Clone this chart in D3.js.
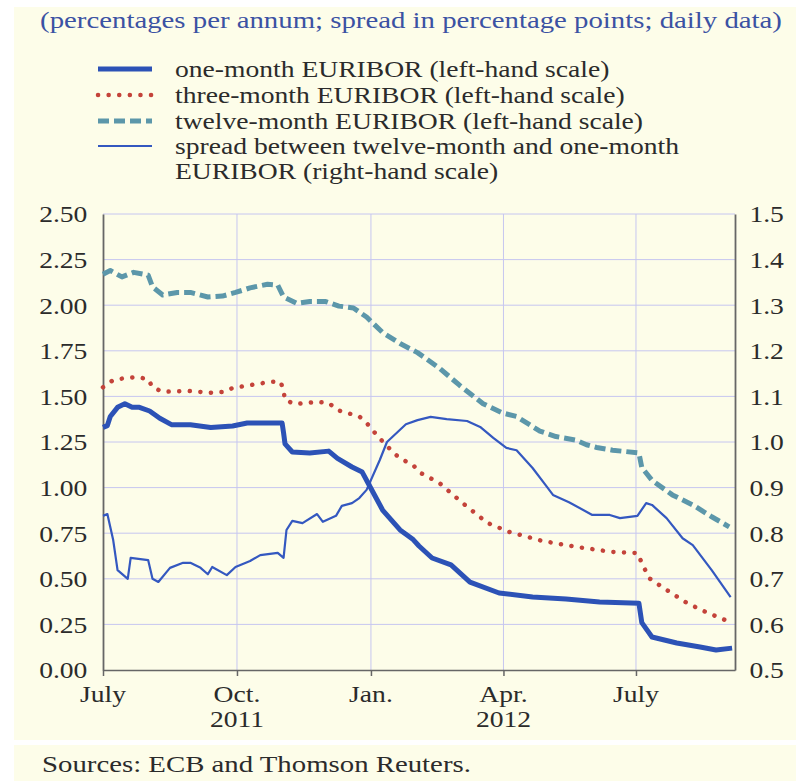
<!DOCTYPE html>
<html>
<head>
<meta charset="utf-8">
<script src="https://cdn.jsdelivr.net/npm/d3@7"></script>
<style>
  body { margin: 0; background: #ffffff; }
  svg { display: block; }
</style>
</head>
<body>
<div id="chart"></div>
<script>
// daily EURIBOR rates (left-hand scale, % p.a.)
var oneMonth = [
  ["2011-07-01", 1.33], ["2011-07-04", 1.34], ["2011-07-06", 1.39], ["2011-07-11", 1.44],
  ["2011-07-16", 1.46], ["2011-07-21", 1.44], ["2011-07-26", 1.44], ["2011-08-02", 1.42],
  ["2011-08-09", 1.38], ["2011-08-17", 1.345], ["2011-08-30", 1.345], ["2011-09-13", 1.33],
  ["2011-09-28", 1.338], ["2011-10-08", 1.354], ["2011-11-01", 1.354], ["2011-11-02", 1.30],
  ["2011-11-03", 1.24], ["2011-11-08", 1.195], ["2011-11-20", 1.19], ["2011-12-03", 1.20],
  ["2011-12-09", 1.16], ["2011-12-19", 1.113], ["2011-12-26", 1.085], ["2011-12-30", 1.025],
  ["2012-01-09", 0.877], ["2012-01-21", 0.768], ["2012-01-30", 0.715], ["2012-02-03", 0.68],
  ["2012-02-12", 0.614], ["2012-02-25", 0.576], ["2012-03-09", 0.482], ["2012-03-29", 0.422],
  ["2012-04-21", 0.40], ["2012-05-14", 0.389], ["2012-06-06", 0.373], ["2012-07-03", 0.366],
  ["2012-07-05", 0.26], ["2012-07-12", 0.181], ["2012-07-29", 0.148], ["2012-08-14", 0.126],
  ["2012-08-25", 0.11], ["2012-09-05", 0.12]
];

var threeMonth = [
  ["2011-07-01", 1.55], ["2011-07-08", 1.59], ["2011-07-16", 1.60], ["2011-07-24", 1.606],
  ["2011-08-01", 1.595], ["2011-08-04", 1.55], ["2011-08-11", 1.525], ["2011-08-28", 1.53],
  ["2011-09-13", 1.52], ["2011-09-22", 1.525], ["2011-09-28", 1.546], ["2011-10-15", 1.568],
  ["2011-10-24", 1.58], ["2011-10-31", 1.58], ["2011-11-02", 1.53], ["2011-11-03", 1.48],
  ["2011-11-10", 1.458], ["2011-11-25", 1.47], ["2011-12-03", 1.464], ["2011-12-09", 1.425],
  ["2011-12-24", 1.39], ["2011-12-29", 1.355], ["2012-01-02", 1.316], ["2012-01-07", 1.27],
  ["2012-01-16", 1.195], ["2012-01-21", 1.16], ["2012-01-30", 1.124], ["2012-02-03", 1.085],
  ["2012-02-17", 1.025], ["2012-03-04", 0.915], ["2012-03-21", 0.806], ["2012-04-05", 0.757],
  ["2012-04-28", 0.707], ["2012-05-22", 0.674], ["2012-06-15", 0.647], ["2012-07-02", 0.641],
  ["2012-07-05", 0.587], ["2012-07-10", 0.504], ["2012-07-22", 0.439], ["2012-08-05", 0.367],
  ["2012-08-18", 0.318], ["2012-09-02", 0.268]
];

var twelveMonth = [
  ["2011-07-01", 2.17], ["2011-07-06", 2.19], ["2011-07-14", 2.155], ["2011-07-22", 2.18],
  ["2011-08-01", 2.165], ["2011-08-04", 2.10], ["2011-08-11", 2.056], ["2011-08-21", 2.07],
  ["2011-08-30", 2.07], ["2011-09-11", 2.045], ["2011-09-21", 2.05], ["2011-09-30", 2.07],
  ["2011-10-10", 2.095], ["2011-10-22", 2.115], ["2011-10-29", 2.11], ["2011-11-02", 2.045],
  ["2011-11-11", 2.01], ["2011-11-20", 2.02], ["2011-12-01", 2.02], ["2011-12-10", 1.995],
  ["2011-12-20", 1.985], ["2011-12-29", 1.935], ["2012-01-09", 1.85], ["2012-01-21", 1.79],
  ["2012-02-02", 1.74], ["2012-02-17", 1.655], ["2012-03-02", 1.56], ["2012-03-18", 1.46],
  ["2012-03-31", 1.41], ["2012-04-10", 1.39], ["2012-04-26", 1.31], ["2012-05-07", 1.28],
  ["2012-05-21", 1.26], ["2012-05-28", 1.235], ["2012-06-04", 1.22], ["2012-06-15", 1.205],
  ["2012-07-03", 1.19], ["2012-07-05", 1.11], ["2012-07-12", 1.04], ["2012-07-26", 0.96],
  ["2012-08-09", 0.905], ["2012-08-22", 0.84], ["2012-09-03", 0.785]
];

// spread twelve-month minus one-month (right-hand scale, percentage points)
var spread = [
  ["2011-07-01", 0.838], ["2011-07-04", 0.842], ["2011-07-08", 0.785], ["2011-07-11", 0.719],
  ["2011-07-18", 0.70], ["2011-07-20", 0.746], ["2011-08-01", 0.741], ["2011-08-04", 0.70],
  ["2011-08-08", 0.693], ["2011-08-16", 0.724], ["2011-08-25", 0.735], ["2011-08-30", 0.735],
  ["2011-09-06", 0.724], ["2011-09-11", 0.71], ["2011-09-14", 0.726], ["2011-09-24", 0.708],
  ["2011-09-30", 0.726], ["2011-10-10", 0.739], ["2011-10-17", 0.752], ["2011-10-29", 0.757],
  ["2011-11-02", 0.746], ["2011-11-04", 0.807], ["2011-11-08", 0.827], ["2011-11-15", 0.822],
  ["2011-11-25", 0.842], ["2011-11-29", 0.825], ["2011-12-08", 0.838], ["2011-12-12", 0.86],
  ["2011-12-19", 0.866], ["2011-12-24", 0.877], ["2011-12-29", 0.895], ["2012-01-07", 0.96],
  ["2012-01-12", 1.0], ["2012-01-25", 1.039], ["2012-02-02", 1.048], ["2012-02-11", 1.055],
  ["2012-02-22", 1.05], ["2012-03-07", 1.046], ["2012-03-16", 1.033], ["2012-03-25", 1.009],
  ["2012-04-03", 0.987], ["2012-04-10", 0.982], ["2012-04-21", 0.943], ["2012-05-01", 0.901],
  ["2012-05-05", 0.884], ["2012-05-16", 0.868], ["2012-06-01", 0.84], ["2012-06-13", 0.84],
  ["2012-06-20", 0.833], ["2012-07-02", 0.838], ["2012-07-08", 0.866], ["2012-07-12", 0.862],
  ["2012-07-22", 0.833], ["2012-08-02", 0.789], ["2012-08-09", 0.774], ["2012-08-22", 0.719],
  ["2012-09-04", 0.66]
];

var leftTicks = [0, 0.25, 0.5, 0.75, 1, 1.25, 1.5, 1.75, 2, 2.25, 2.5];
var rightTicks = [0.5, 0.6, 0.7, 0.8, 0.9, 1.0, 1.1, 1.2, 1.3, 1.4, 1.5];
var monthTicks = ["2011-07-01", "2011-10-01", "2012-01-01", "2012-04-01", "2012-07-01"];
var monthLabels = ["July", "Oct.", "Jan.", "Apr.", "July"];
var yearLabels = [["2011-10-01", "2011"], ["2012-04-01", "2012"]];

var legendLabels = [
  "one-month EURIBOR (left-hand scale)",
  "three-month EURIBOR (left-hand scale)",
  "twelve-month EURIBOR (left-hand scale)",
  "spread between twelve-month and one-month",
  "EURIBOR (right-hand scale)"
];

var subtitle = "(percentages per annum; spread in percentage points; daily data)";
var source = "Sources: ECB and Thomson Reuters.";

// ------------------------------------------------------------
var width = 796, height = 781;
var plot = {left: 103, right: 735, top: 214, bottom: 670};
var serif = "'Liberation Serif', 'Times New Roman', serif";
var stretch = 1.2;   // the source picture is a little wider than tall text

var parse = d3.timeParse("%Y-%m-%d");

var svg = d3.select("#chart").append("svg")
    .attr("width", width)
    .attr("height", height);

svg.append("rect").attr("x", 14).attr("y", 7).attr("width", width - 14).attr("height", 733).attr("fill", "#fdfde9");
svg.append("rect").attr("x", 14).attr("y", 745).attr("width", width - 14).attr("height", 36).attr("fill", "#fdfde9");

function label(x, y, s, anchor, size, color) {
  return svg.append("text")
      .attr("transform", "translate(" + x + "," + y + ") scale(" + stretch + ",1)")
      .attr("text-anchor", anchor)
      .attr("font-family", serif)
      .attr("font-size", size)
      .attr("fill", color)
      .text(s);
}

label(411, 28, subtitle, "middle", 24, "#3b52a3");
label(42, 772, source, "start", 24, "#2b2b2b");

var x = d3.scaleTime()
    .domain([parse("2011-07-01"), parse("2012-09-07")])
    .range([plot.left, plot.right]);

var yL = d3.scaleLinear().domain([0, 2.5]).range([plot.bottom, plot.top]);
var yR = d3.scaleLinear().domain([0.5, 1.5]).range([plot.bottom, plot.top]);

// grid
var grid = svg.append("g").attr("stroke", "#c6c6f0").attr("stroke-width", 1);
grid.selectAll("line.h")
    .data(leftTicks.filter(function(d) { return d > 0; }))
    .enter().append("line")
    .attr("x1", plot.left).attr("x2", plot.right)
    .attr("y1", function(d) { return yL(d); })
    .attr("y2", function(d) { return yL(d); });
grid.selectAll("line.v")
    .data(monthTicks.slice(1))
    .enter().append("line")
    .attr("x1", function(d) { return x(parse(d)); })
    .attr("x2", function(d) { return x(parse(d)); })
    .attr("y1", plot.top).attr("y2", plot.bottom);

// axes
var axisColor = "#666";

var gx = svg.append("g")
    .attr("transform", "translate(0," + plot.bottom + ")")
    .call(d3.axisBottom(x)
      .tickValues(monthTicks.map(parse))
      .tickSize(6).tickSizeOuter(0).tickFormat(""));
gx.selectAll("path, line").attr("stroke", axisColor).attr("stroke-width", 1.5);

monthTicks.forEach(function(d, i) {
  label(x(parse(d)), 702, monthLabels[i], "middle", 23, "#2b2b2b");
});
yearLabels.forEach(function(d) {
  label(x(parse(d[0])), 727, d[1], "middle", 23, "#2b2b2b");
});

var gl = svg.append("g")
    .attr("transform", "translate(" + plot.left + ",0)")
    .call(d3.axisLeft(yL).tickValues(leftTicks).tickSize(0).tickPadding(13)
      .tickFormat(d3.format(".2f")));
gl.select(".domain").attr("stroke", axisColor).attr("stroke-width", 1.8);
gl.selectAll("text")
    .attr("transform", "scale(" + stretch + ",1)")
    .attr("dy", "0.34em")
    .attr("font-family", serif).attr("font-size", 23).attr("fill", "#2b2b2b");

var gr = svg.append("g")
    .attr("transform", "translate(" + plot.right + ",0)")
    .call(d3.axisRight(yR).tickValues(rightTicks).tickSize(0).tickPadding(12)
      .tickFormat(d3.format(".1f")));
gr.select(".domain").attr("stroke", axisColor).attr("stroke-width", 1.8);
gr.selectAll("text")
    .attr("transform", "scale(" + stretch + ",1)")
    .attr("dy", "0.34em")
    .attr("font-family", serif).attr("font-size", 23).attr("fill", "#2b2b2b");

// series
var styles = {
  one:    {color: "#2c52b6", width: 5,   dash: null},
  three:  {color: "#c4433a", width: 4.5, dash: "0.1,10.5", cap: "round"},
  twelve: {color: "#5c97aa", width: 5,   dash: "11,5"},
  spread: {color: "#3458c0", width: 2.2, dash: null}
};

function drawLine(data, y, st) {
  var line = d3.line()
      .x(function(d) { return x(parse(d[0])); })
      .y(function(d) { return y(d[1]); });
  svg.append("path")
      .datum(data)
      .attr("fill", "none")
      .attr("stroke", st.color)
      .attr("stroke-width", st.width)
      .attr("stroke-dasharray", st.dash)
      .attr("stroke-linecap", st.cap || "butt")
      .attr("stroke-linejoin", "round")
      .attr("d", line);
}

drawLine(spread, yR, styles.spread);
drawLine(twelveMonth, yL, styles.twelve);
drawLine(threeMonth, yL, styles.three);
drawLine(oneMonth, yL, styles.one);

// legend
var legendRows = [69, 95, 121, 146, 171];
var legendStyles = [styles.one, styles.three, styles.twelve, styles.spread, null];
legendLabels.forEach(function(s, i) {
  var st = legendStyles[i];
  if (st) {
    svg.append("line")
        .attr("x1", 98).attr("x2", 152)
        .attr("y1", legendRows[i]).attr("y2", legendRows[i])
        .attr("stroke", st.color)
        .attr("stroke-width", st.width)
        .attr("stroke-dasharray", st.dash)
        .attr("stroke-linecap", st.cap || "butt");
  }
  label(175, legendRows[i] + 7.5, s, "start", 23, "#2b2b2b");
});
</script>
</body>
</html>
